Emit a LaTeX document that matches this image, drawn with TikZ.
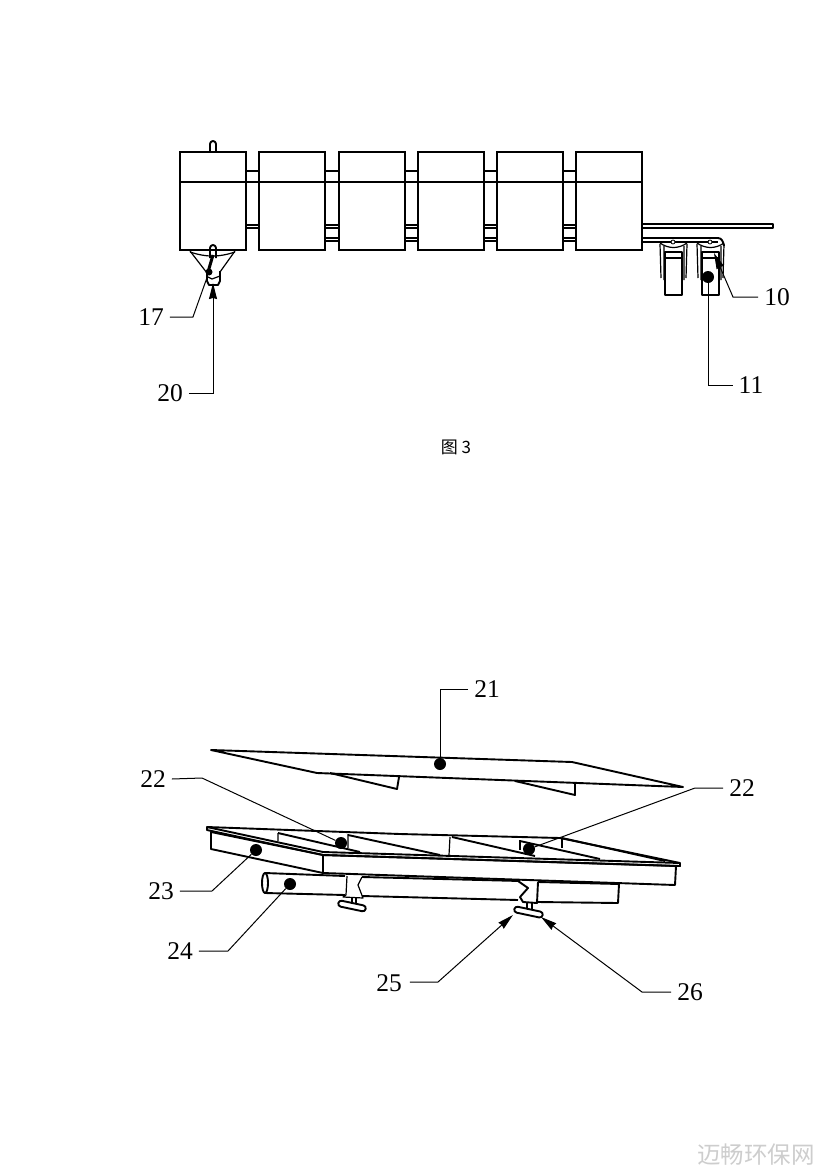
\documentclass[tikz,border=0pt]{standalone}
\usepackage{fontspec}
\setmainfont{Liberation Serif}
\newfontfamily\cjk{Noto Sans CJK SC}
\usetikzlibrary{arrows.meta}
\definecolor{marklight}{RGB}{205,205,205}
\tikzset{
    part/.style={line width=1.9pt, line join=round},
    thinpart/.style={line width=1.2pt, line join=round},
    leader/.style={line width=1pt},
    pointer/.style={line width=1pt, -{Stealth[length=16pt, width=8pt, inset=1pt]}},
    numlabel/.style={inner sep=0pt, font=\fontsize{25.5}{25.5}\selectfont},
    bigdot/.style={circle, fill=black, inner sep=0pt, minimum size=12pt},
    smalldot/.style={circle, fill=black, inner sep=0pt, minimum size=7pt},
    tank/.style={draw, line width=2pt, inner sep=0pt, minimum width=66pt, minimum height=98pt},
}

\begin{document}
\begin{tikzpicture}[x=1pt, y=-1pt]
    \useasboundingbox (0,0) rectangle (827,1169);

    % Draw rails behind the tanks
    \foreach \y in {171,182,225,228} {
        \draw[part] (246,\y) -- (576,\y);
    }
    \draw[part] (325,238) -- (576,238);
    \draw[part] (325,241) -- (576,241);
    \draw[part] (642,224) -- (773,224) -- (773,228) -- (642,228);
    \draw[part] (642,238) -- (718,238) to[out=0, in=100] (724,246);
    \draw[part] (642,242) -- (718,242);

    % Draw tanks
    \foreach \n/\x in {1/213,2/292,3/372,4/451,5/530,6/609} {
        \node[tank, fill=white] (tank\n) at (\x,201) {};
        \draw[part] (tank\n.west |- 0,182) -- (tank\n.east |- 0,182);
    }
    \draw[part] (210,152) -- (210,144) arc[start angle=180, end angle=360, radius=3] -- (216,152);

    % Hopper under the first tank
    \draw[thinpart] (190,251) -- (207,273) (235,251) -- (220,272);
    \draw[thinpart] (190,252) to[bend right=18] (235,252);
    \draw[part] (210,258) -- (210,248) arc[start angle=180, end angle=360, radius=3] -- (216,258);
    \draw[line width=3pt] (213,255) -- (208,272);
    \draw[part] (207,274) -- (207,281) -- (209,285) -- (218,285) -- (220,281) -- (220,271);
    \draw[thinpart] (208,277) -- (212,279) -- (220,276);

    % Wheels
    \foreach \n/\x in {1/0,2/37} {
        \draw[thinpart] (\x+660,244) -- (\x+661,278) (\x+664,246) -- (\x+664,280);
        \draw[thinpart] (\x+687,244) -- (\x+686,278) (\x+684,246) -- (\x+684,280);
        \draw[thinpart] (\x+660,243) to[bend right=35] (\x+687,243);
        \draw[part, fill=white] (\x+665,252) rectangle (\x+682,295);
        \draw[part] (\x+665,258) -- (\x+682,258);
        \node[circle, draw, thick, fill=white, inner sep=0pt, minimum size=4pt] (axle\n) at (\x+673,242) {};
    }

    % Top plate
    \draw[part] (211,750) -- (572,762) -- (683,787) -- (317,773) -- cycle;
    \draw[part] (330,773) -- (397,789) -- (399,777);
    \draw[part] (515,781) -- (575,795) -- (575,783);

    % Tube
    \draw[part] (265,873) -- (345,876) (362,877) -- (520,881) (538,882) -- (619,884) -- (618,903) -- (538,902);
    \draw[part] (265,893) -- (345,895) (362,896) -- (518,900);
    \draw[part] (265,883) ellipse[x radius=3, y radius=10];

    % Tray
    \draw[part, fill=white] (211,832) -- (211,849) -- (323,873) -- (323,855) -- cycle;
    \draw[part, fill=white] (323,855) -- (323,873) -- (675,885) -- (676,866) -- cycle;
    \draw[part] (207,827) -- (400,834) -- (560,838) -- (680,863) -- (680,866) -- (323,855) -- (207,830) -- cycle;
    \draw[part] (207,827) -- (323,852) -- (680,863);
    \draw[thinpart] (278,833) -- (278,841) (348,834) -- (348,848) (450,837) -- (449,855);
    \draw[thinpart] (520,840) -- (520,850) (562,838) -- (562,848);
    \draw[part] (278,833) -- (360,852) (348,835) -- (440,855) (452,837) -- (535,856) (520,841) -- (600,859);
    \draw[part] (562,838) -- (665,861);

    % Clamps
    \draw[thinpart] (347,876) -- (346,895) -- (343,897) -- (363,898) -- (358,885) -- (362,877);
    \draw[thinpart] (352,898) -- (352,906) (356,898) -- (356,908);
    \draw[part, fill=white, rotate around={-12:(352,906)}, rounded corners=3pt] (338,903) rectangle (366,909);
    \draw[part] (518,881) -- (528,888) -- (520,897) -- (523,902) -- (537,903) -- (538,882);
    \draw[thinpart] (527,903) -- (527,909) (532,903) -- (532,911);
    \draw[part, fill=white, rotate around={-12:(528,912)}, rounded corners=3pt] (514,909) rectangle (543,915);

    % Dots for the leaders
    \node[smalldot] (dotA) at (209,272) {};
    \node[bigdot] (dotB) at (708,277) {};
    \node[bigdot] (dotC) at (440,764) {};
    \node[bigdot] (dotD) at (341,843) {};
    \node[bigdot] (dotE) at (529,849) {};
    \node[bigdot] (dotF) at (256,850) {};
    \node[bigdot] (dotG) at (290,884) {};
    \coordinate (tipA) at (213,283);
    \coordinate (tipB) at (714,253);
    \coordinate (tipC) at (513,915);
    \coordinate (tipD) at (541,917);

    % Numbers
    \node[numlabel] (num17) at (151,317) {17};
    \node[numlabel] (num20) at (170,393) {20};
    \node[numlabel] (num10) at (777,297) {10};
    \node[numlabel] (num11) at (751,385) {11};
    \node[numlabel] (num21) at (487,689) {21};
    \node[numlabel] (num22a) at (153,779) {22};
    \node[numlabel] (num22b) at (742,788) {22};
    \node[numlabel] (num23) at (161,891) {23};
    \node[numlabel] (num24) at (180,951) {24};
    \node[numlabel] (num25) at (389,983) {25};
    \node[numlabel] (num26) at (690,992) {26};

    % Leaders
    \draw[leader] (num17.east) ++(6,0) -- ++(23,0) -- (dotA);
    \draw[pointer] (num20.east) ++(6,0) -- (213,393) -- (tipA);
    \draw[pointer] (num10.west) ++(-6,0) -- (733,297) -- (tipB);
    \draw[leader] (num11.west) ++(-6,0) -- (708,385) -- (dotB);
    \draw[leader] (num21.west) ++(-6,0) -- (440,689) -- (dotC);
    \draw[leader] (num22a.east) ++(6,0) -- (202,778) -- (dotD);
    \draw[leader] (num22b.west) ++(-6,0) -- (695,788) -- (dotE);
    \draw[leader] (num23.east) ++(6,0) -- (212,891) -- (dotF);
    \draw[leader] (num24.east) ++(6,0) -- (228,951) -- (dotG);
    \draw[pointer] (num25.east) ++(8,-1) -- (438,982) -- (tipC);
    \draw[pointer] (num26.west) ++(-6,0) -- (642,992) -- (tipD);

    % Caption and mark
    \node[inner sep=0pt, font=\cjk\fontsize{17}{17}\selectfont] (caption) at (456,447) {图 3};
    \node[inner sep=0pt, text=marklight, font=\cjk\fontsize{23.5}{23.5}\selectfont] (mark) at (756,1155) {迈畅环保网};
\end{tikzpicture}
\end{document}
